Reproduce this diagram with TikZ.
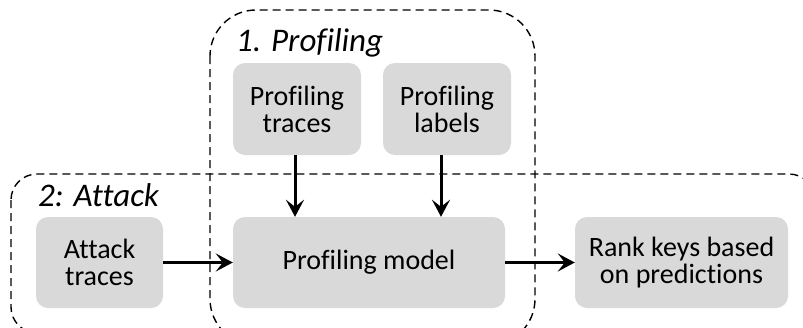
\documentclass[tikz,border=0pt]{standalone}
\usepackage{fontspec}
\setmainfont{Carlito}[Ligatures=NoCommon]
\usetikzlibrary{arrows.meta}
\tikzset{
  box/.style={fill=boxgray, rounded corners=12pt, align=center, inner sep=0pt,
    font=\fontsize{28}{27}\selectfont},
  group/.style={draw=black, dashed, dash pattern=on 8pt off 5pt, line width=1.4pt},
  ttl/.style={anchor=west, inner sep=0pt, font=\fontsize{33}{33}\selectfont\itshape},
  arr/.style={line width=3pt, -{Stealth[length=17pt, width=18pt, inset=7pt]}}
}
\definecolor{boxgray}{HTML}{D9D9D9}
\begin{document}
\begin{tikzpicture}[x=1pt, y=-1pt]
\useasboundingbox (0,0) rectangle (803,327);
\clip (0,0) rectangle (803,327);
\fill[white] (0,0) rectangle (803,327);
% groups
\draw[group, rounded corners=46pt] (210,10) rectangle (535,345);
\draw[group, rounded corners=26pt] (11,174) rectangle (815,333);
\node[ttl] (t1) at (236,43) {1. Profiling};
\node[ttl] (t2) at (38,195) {2: Attack};
% boxes
\node[box, minimum width=128pt, minimum height=92pt] (pt) at (297,109) {Profiling\\traces};
\node[box, minimum width=128pt, minimum height=92pt] (pl) at (447,109) {Profiling\\labels};
\node[box, minimum width=127pt, minimum height=91pt] (at) at (99.5,262.5) {Attack\\traces};
\node[box, minimum width=272pt, minimum height=91pt] (pm) at (369,262.5) {Profiling model};
\node[box, minimum width=213pt, minimum height=91pt] (rk) at (681.5,262.5) {Rank keys based\\on predictions};
\coordinate (xa) at (295,0);
\coordinate (xb) at (441,0);
% arrows
\draw[arr] (pt.south -| xa) -- (pm.north -| xa);
\draw[arr] (pl.south -| xb) -- (pm.north -| xb);
\draw[arr] (at.east) -- (pm.west);
\draw[arr] (pm.east) -- (rk.west);
\end{tikzpicture}
\end{document}
